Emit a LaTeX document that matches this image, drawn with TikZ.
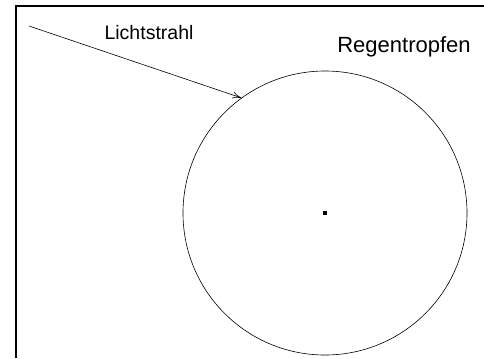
\documentclass[tikz,border=0pt]{standalone}
\usepackage{fontspec}
\setmainfont{Liberation Sans}
\usetikzlibrary{arrows.meta}

\begin{document}
\begin{tikzpicture}[>={To[length=9bp,width=7bp]}, x=1bp, y=-1bp, line width=0.6bp]
    \useasboundingbox (0,0) rectangle (484,358);
    % 1. Rahmen
    \draw[line width=1.6bp] (16,358) -- (16,6) -- (484,6);

    % 2. Regentropfen mit Mittelpunkt
    \node[draw, circle, minimum size=284bp, inner sep=0pt] (tropfen) at (325,213) {};
    \node[fill, rectangle, minimum size=4.5bp, inner sep=0pt] (mitte) at (tropfen.center) {};
    \node[anchor=base, font=\fontsize{22bp}{26bp}\selectfont] (regen) at (404,52) {Regentropfen};

    % 3. Lichtstrahl
    \coordinate (start) at (29,26);
    \draw[->] (start) -- (tropfen.126);
    \node[anchor=base, font=\fontsize{19.5bp}{23bp}\selectfont] (licht) at (149,39) {Lichtstrahl};
\end{tikzpicture}
\end{document}
